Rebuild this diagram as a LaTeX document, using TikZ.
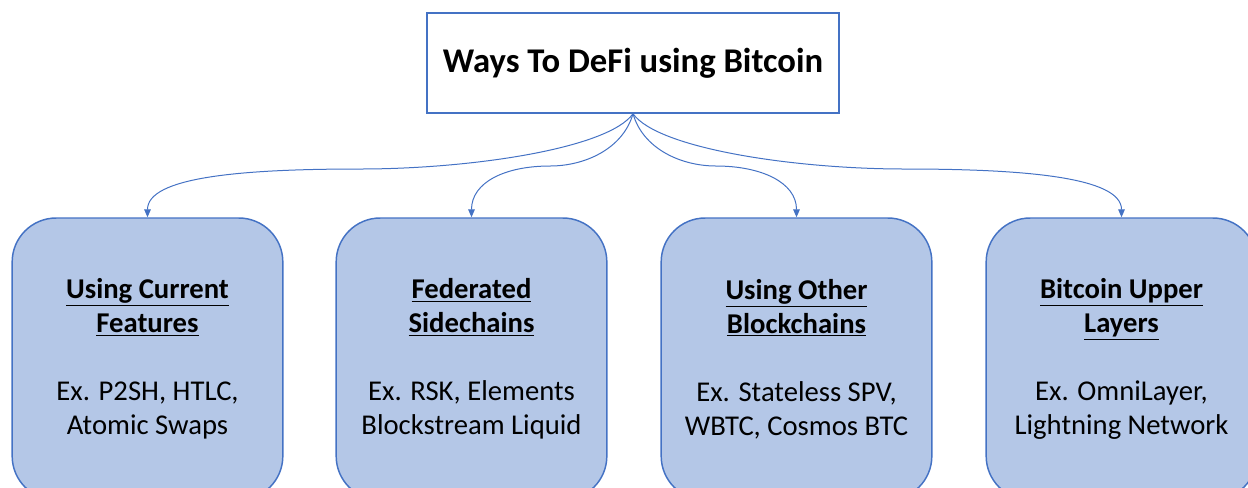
\documentclass[tikz,border=0pt]{standalone}
\usepackage{fontspec}
\setmainfont{Carlito}
\usepackage{tikz}
\usetikzlibrary{arrows.meta}
\definecolor{wayfill}{RGB}{180,199,231}
\definecolor{wayline}{RGB}{68,114,196}
\newcommand{\wayhead}[1]{\textbf{\underline{#1}}}

\begin{document}
\begin{tikzpicture}[x=0.75pt,y=0.75pt,yscale=-1,xscale=1,
  titlebox/.style={draw=wayline,line width=1.1pt,fill=white,minimum width=309pt,minimum height=75pt,
    font=\fontsize{26}{30}\selectfont\bfseries},
  waybox/.style={draw=wayline,line width=1.1pt,fill=wayfill,rounded corners=33pt,
    minimum width=203pt,minimum height=211.5pt,align=center,
    font=\fontsize{21.5}{25.5}\selectfont},
  waylink/.style={draw=wayline,line width=0.75pt,-{Triangle[length=6pt,width=5pt]}}]
%set diagram size: 1248 x 487
\useasboundingbox (0,0) rectangle (1248,487);
\clip (0,0) rectangle (1248,487);

% Text Node
\draw (633,63) node [titlebox] (title) {Ways To DeFi using Bitcoin};
%Rounded Rect
\draw (147.5,359) node [waybox] (b1) {\wayhead{Using Current}\\ \wayhead{Features}\\[25.5pt] Ex. P2SH, HTLC,\\ Atomic Swaps};
%Rounded Rect
\draw (471.5,359) node [waybox] (b2) {\wayhead{Federated}\\ \wayhead{Sidechains}\\[25.5pt] Ex. RSK, Elements\\ Blockstream Liquid};
%Rounded Rect
\draw (796.5,359) node [waybox] (b3) {\wayhead{Using Other}\\ \wayhead{Blockchains}\\[25.5pt] Ex. Stateless SPV,\\ WBTC, Cosmos BTC};
%Rounded Rect
\draw (1121.5,359) node [waybox] (b4) {\wayhead{Bitcoin Upper}\\ \wayhead{Layers}\\[25.5pt] Ex. OmniLayer,\\ Lightning Network};

%Curve Lines
\draw [waylink] (title.south) .. controls +(-25,35) and +(110,0) .. (360,169) .. controls +(-120,0) and +(0,-40) .. (b1.north);
%Curve Lines
\draw [waylink] (title.south) .. controls +(-10,35) and +(35,0) .. (550,166) .. controls +(-45,0) and +(0,-35) .. (b2.north);
%Curve Lines
\draw [waylink] (title.south) .. controls +(10,35) and +(-35,0) .. (716,166) .. controls +(45,0) and +(0,-35) .. (b3.north);
%Curve Lines
\draw [waylink] (title.south) .. controls +(25,35) and +(-110,0) .. (905,169) .. controls +(120,0) and +(0,-40) .. (b4.north);

\end{tikzpicture}
\end{document}
